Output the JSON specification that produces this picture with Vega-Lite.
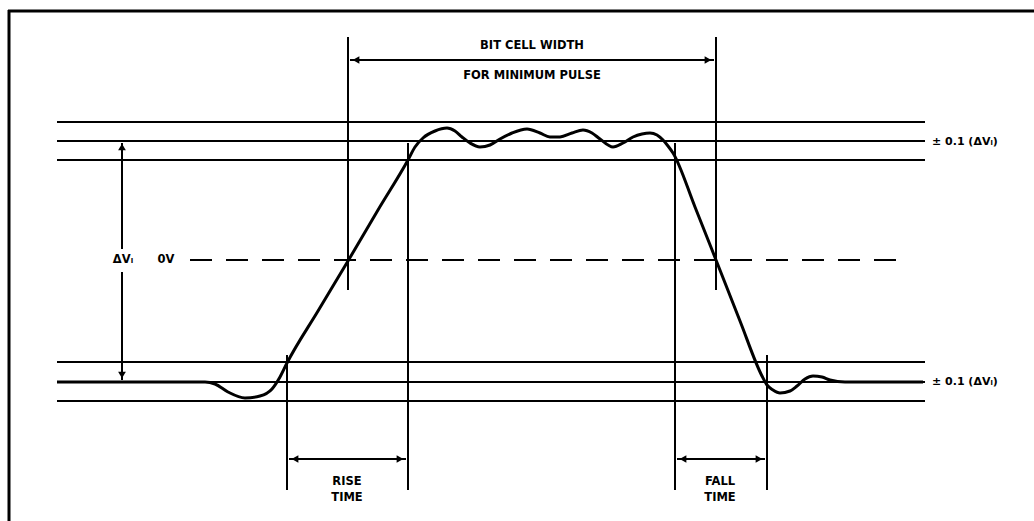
{
  "$schema": "https://vega.github.io/schema/vega-lite/v6.json",
  "autosize": {"type": "fit", "contains": "padding"},
  "width": 1034,
  "height": 521,
  "padding": 0,
  "background": "white",
  "config": {"view": {"stroke": null}},
  "datasets": {
    "frame": [
      {"t1": 8, "v1": 11, "t2": 1034, "v2": 11},
      {"t1": 9, "v1": 10, "t2": 9, "v2": 521}
    ],
    "levels": [
      {"t1": 57, "t2": 925, "v": 122},
      {"t1": 57, "t2": 925, "v": 141},
      {"t1": 57, "t2": 925, "v": 160},
      {"t1": 57, "t2": 925, "v": 362},
      {"t1": 57, "t2": 925, "v": 382},
      {"t1": 57, "t2": 925, "v": 401}
    ],
    "zero": [{"t1": 190, "t2": 905, "v": 260}],
    "guides": [
      {"t": 348, "v1": 37, "v2": 290},
      {"t": 716, "v1": 37, "v2": 290},
      {"t": 287, "v1": 355, "v2": 490},
      {"t": 408, "v1": 143, "v2": 490},
      {"t": 675, "v1": 143, "v2": 490},
      {"t": 767, "v1": 355, "v2": 490}
    ],
    "dims": [
      {"t1": 350, "v1": 60, "t2": 714, "v2": 60},
      {"t1": 289, "v1": 459, "t2": 406, "v2": 459},
      {"t1": 677, "v1": 459, "t2": 765, "v2": 459},
      {"t1": 122, "v1": 143, "t2": 122, "v2": 249},
      {"t1": 122, "v1": 272, "t2": 122, "v2": 380}
    ],
    "heads": [
      {"t": 356, "v": 60, "dir": "left"},
      {"t": 708, "v": 60, "dir": "right"},
      {"t": 295, "v": 459, "dir": "left"},
      {"t": 400, "v": 459, "dir": "right"},
      {"t": 683, "v": 459, "dir": "left"},
      {"t": 759, "v": 459, "dir": "right"},
      {"t": 122, "v": 147, "dir": "up"},
      {"t": 122, "v": 375, "dir": "down"}
    ],
    "wave": [
      {"i": 0, "t": 57, "v": 382},
      {"i": 1, "t": 205, "v": 382},
      {"i": 2, "t": 215, "v": 384},
      {"i": 3, "t": 228, "v": 392},
      {"i": 4, "t": 245, "v": 398},
      {"i": 5, "t": 260, "v": 396},
      {"i": 6, "t": 272, "v": 389},
      {"i": 7, "t": 280, "v": 377},
      {"i": 8, "t": 287, "v": 363},
      {"i": 9, "t": 318, "v": 311},
      {"i": 10, "t": 348, "v": 261},
      {"i": 11, "t": 378, "v": 210},
      {"i": 12, "t": 408, "v": 160},
      {"i": 13, "t": 415, "v": 147},
      {"i": 14, "t": 423, "v": 138},
      {"i": 15, "t": 435, "v": 131},
      {"i": 16, "t": 447, "v": 128},
      {"i": 17, "t": 455, "v": 131},
      {"i": 18, "t": 462, "v": 137},
      {"i": 19, "t": 470, "v": 143},
      {"i": 20, "t": 480, "v": 147},
      {"i": 21, "t": 490, "v": 145},
      {"i": 22, "t": 500, "v": 139},
      {"i": 23, "t": 512, "v": 133},
      {"i": 24, "t": 527, "v": 129},
      {"i": 25, "t": 540, "v": 133},
      {"i": 26, "t": 550, "v": 137},
      {"i": 27, "t": 560, "v": 137},
      {"i": 28, "t": 572, "v": 133},
      {"i": 29, "t": 583, "v": 130},
      {"i": 30, "t": 592, "v": 133},
      {"i": 31, "t": 600, "v": 139},
      {"i": 32, "t": 613, "v": 147},
      {"i": 33, "t": 623, "v": 143},
      {"i": 34, "t": 633, "v": 137},
      {"i": 35, "t": 642, "v": 134},
      {"i": 36, "t": 650, "v": 133},
      {"i": 37, "t": 657, "v": 135},
      {"i": 38, "t": 663, "v": 140},
      {"i": 39, "t": 668, "v": 146},
      {"i": 40, "t": 673, "v": 153},
      {"i": 41, "t": 695, "v": 207},
      {"i": 42, "t": 716, "v": 260},
      {"i": 43, "t": 740, "v": 321},
      {"i": 44, "t": 762, "v": 376},
      {"i": 45, "t": 767, "v": 385},
      {"i": 46, "t": 773, "v": 390},
      {"i": 47, "t": 780, "v": 393},
      {"i": 48, "t": 790, "v": 391},
      {"i": 49, "t": 797, "v": 386},
      {"i": 50, "t": 805, "v": 379},
      {"i": 51, "t": 813, "v": 376},
      {"i": 52, "t": 822, "v": 377},
      {"i": 53, "t": 830, "v": 380},
      {"i": 54, "t": 845, "v": 382},
      {"i": 55, "t": 923, "v": 382}
    ],
    "centerText": [
      {"t": 532, "v": 46, "label": "BIT CELL WIDTH"},
      {"t": 532, "v": 76, "label": "FOR MINIMUM PULSE"},
      {"t": 347, "v": 482, "label": "RISE"},
      {"t": 347, "v": 498, "label": "TIME"},
      {"t": 720, "v": 482, "label": "FALL"},
      {"t": 720, "v": 498, "label": "TIME"},
      {"t": 123, "v": 260, "label": "ΔVᵢ"},
      {"t": 166, "v": 260, "label": "0V"}
    ],
    "leftText": [
      {"t": 932, "v": 142, "label": "± 0.1 (ΔVᵢ)"},
      {"t": 932, "v": 382, "label": "± 0.1 (ΔVᵢ)"}
    ]
  },
  "layer": [
    {
      "data": {"name": "frame"},
      "mark": {"type": "rule", "color": "black", "strokeWidth": 3, "clip": true},
      "encoding": {
        "x": {"field": "t1", "type": "quantitative", "scale": {"domain": [0, 1034], "nice": false, "zero": false}, "axis": null},
        "y": {"field": "v1", "type": "quantitative", "scale": {"domain": [0, 521], "nice": false, "zero": false, "reverse": true}, "axis": null},
        "x2": {"field": "t2"},
        "y2": {"field": "v2"}
      }
    },
    {
      "data": {"name": "levels"},
      "mark": {"type": "rule", "color": "black", "strokeWidth": 2.2},
      "encoding": {
        "x": {"field": "t1", "type": "quantitative"},
        "x2": {"field": "t2"},
        "y": {"field": "v", "type": "quantitative"}
      }
    },
    {
      "data": {"name": "zero"},
      "mark": {"type": "rule", "color": "black", "strokeWidth": 2.2, "strokeDash": [22, 14]},
      "encoding": {
        "x": {"field": "t1", "type": "quantitative"},
        "x2": {"field": "t2"},
        "y": {"field": "v", "type": "quantitative"}
      }
    },
    {
      "data": {"name": "guides"},
      "mark": {"type": "rule", "color": "black", "strokeWidth": 2},
      "encoding": {
        "x": {"field": "t", "type": "quantitative"},
        "y": {"field": "v1", "type": "quantitative"},
        "y2": {"field": "v2"}
      }
    },
    {
      "data": {"name": "dims"},
      "mark": {"type": "rule", "color": "black", "strokeWidth": 2},
      "encoding": {
        "x": {"field": "t1", "type": "quantitative"},
        "y": {"field": "v1", "type": "quantitative"},
        "x2": {"field": "t2"},
        "y2": {"field": "v2"}
      }
    },
    {
      "data": {"name": "heads"},
      "mark": {"type": "point", "filled": true, "color": "black", "opacity": 1, "size": 60},
      "encoding": {
        "x": {"field": "t", "type": "quantitative"},
        "y": {"field": "v", "type": "quantitative"},
        "shape": {
          "field": "dir",
          "type": "nominal",
          "scale": {"domain": ["left", "right", "up", "down"], "range": ["triangle-left", "triangle-right", "triangle-up", "triangle-down"]},
          "legend": null
        }
      }
    },
    {
      "data": {"name": "wave"},
      "mark": {"type": "line", "color": "black", "strokeWidth": 3, "interpolate": "monotone"},
      "encoding": {
        "x": {"field": "t", "type": "quantitative"},
        "y": {"field": "v", "type": "quantitative"},
        "order": {"field": "i", "type": "quantitative"}
      }
    },
    {
      "data": {"name": "centerText"},
      "mark": {"type": "text", "font": "DejaVu Sans", "fontWeight": "bold", "fontSize": 11.5, "align": "center", "baseline": "middle", "color": "black"},
      "encoding": {
        "x": {"field": "t", "type": "quantitative"},
        "y": {"field": "v", "type": "quantitative"},
        "text": {"field": "label", "type": "nominal"}
      }
    },
    {
      "data": {"name": "leftText"},
      "mark": {"type": "text", "font": "DejaVu Sans", "fontWeight": "bold", "fontSize": 11, "align": "left", "baseline": "middle", "color": "black"},
      "encoding": {
        "x": {"field": "t", "type": "quantitative"},
        "y": {"field": "v", "type": "quantitative"},
        "text": {"field": "label", "type": "nominal"}
      }
    }
  ]
}
